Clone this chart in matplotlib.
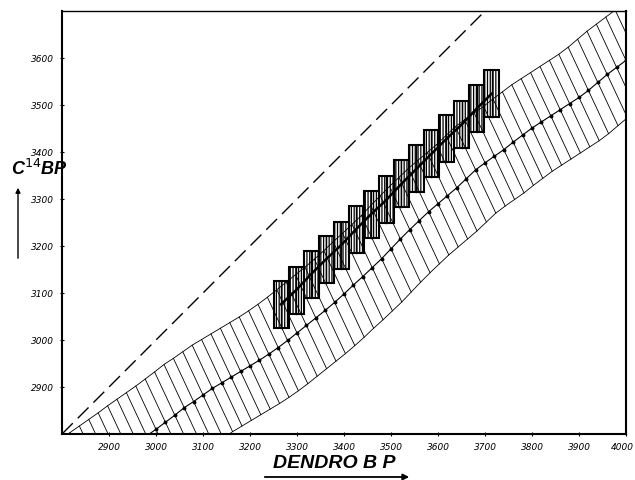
import matplotlib
matplotlib.use("Agg")
import matplotlib.pyplot as plt
from matplotlib.patches import Rectangle, FancyArrowPatch
from matplotlib.transforms import ScaledTranslation
import numpy as np

# calibration curve (dendro years BP vs C14 years BP), one point per 20 years
dendro = list(range(2840, 4041, 20))
c14 = [2697, 2711, 2725, 2739, 2753, 2768, 2782, 2796, 2810, 2825,
       2840, 2856, 2869, 2883, 2897, 2909, 2921, 2933, 2945, 2957,
       2970, 2984, 2999, 3015, 3031, 3047, 3063, 3080, 3098, 3117,
       3135, 3154, 3173, 3194, 3215, 3235, 3254, 3273, 3290, 3307,
       3324, 3343, 3362, 3377, 3391, 3405, 3421, 3436, 3451, 3464,
       3477, 3490, 3503, 3516, 3531, 3548, 3565, 3580, 3595, 3610, 3625]

# error band drawn as slanted strokes: half extent along dendro / c14
band_dx = 43
band_dy = 92

# measured samples (box = dendro interval x c14 +- sigma)
sample_dendro = [3266, 3298, 3330, 3362, 3394, 3426, 3458, 3490,
                 3522, 3554, 3586, 3618, 3650, 3682, 3714]
sample_c14 = [3076, 3106, 3140, 3172, 3202, 3236, 3268, 3298,
              3332, 3364, 3396, 3428, 3458, 3492, 3524]
sample_width = 32
sample_sigma = 50

xticks = [2900, 3000, 3100, 3200, 3300, 3400, 3500, 3600, 3700, 3800, 3900, 4000]
yticks = [2900, 3000, 3100, 3200, 3300, 3400, 3500, 3600]

plt.rcParams['hatch.linewidth'] = 0.9

fig = plt.figure(figsize=(6.35, 4.81), dpi=100)
ax = fig.add_axes([62/635, 46/481, 564/635, 423/481])

# 1:1 line
ax.plot([2800, 3700], [2800, 3700], color='black', lw=1.0, dashes=(11, 5))

# calibration band
x = np.array(dendro)
y = np.array(c14)
top_x, top_y = x - band_dx, y + band_dy
bot_x, bot_y = x + band_dx, y - band_dy
for i in range(len(x)):
    ax.plot([top_x[i], bot_x[i]], [top_y[i], bot_y[i]], color='black', lw=0.6)
ax.plot(top_x, top_y, color='black', lw=0.6)
ax.plot(bot_x, bot_y, color='black', lw=0.6)
ax.plot(x, y, color='black', lw=0.8, marker='o', ms=1.8)

# sample boxes
for d, c in zip(sample_dendro, sample_c14):
    ax.add_patch(Rectangle((d - sample_width/2, c - sample_sigma), sample_width, 2*sample_sigma,
                           fill=False, edgecolor='black', lw=1.5, hatch='||||||'))
    ax.plot([d, d], [c - sample_sigma, c + sample_sigma], color='black', lw=1.0)
ax.plot(sample_dendro, sample_c14, color='black', lw=1.8)

ax.set_xlim(2800, 4000)
ax.set_ylim(2800, 3700)
ax.set_xticks(xticks)
ax.set_yticks(yticks)
ax.set_xticklabels([str(t) for t in xticks], fontsize=6.5, style='italic')
ax.set_yticklabels([str(t) for t in yticks], fontsize=6.5, style='italic')
ax.tick_params(direction='inout', length=3, width=0.8, pad=4)
last = ax.get_xticklabels()[-1]
last.set_transform(last.get_transform() + ScaledTranslation(-0.04, 0, fig.dpi_scale_trans))
for side in ['left', 'bottom', 'right']:
    ax.spines[side].set_linewidth(1.5)
ax.spines['top'].set_linewidth(1.0)

# axis titles
fig.text(11/635, 1 - 169/481, r'C$^{14}$BP', fontsize=13, fontweight='bold', style='italic',
         family='Liberation Sans', va='center', ha='left')
fig.text(334/635, 1 - 464/481, 'DENDRO B P', fontsize=14, fontweight='bold', style='italic',
         family='Liberation Sans', va='center', ha='center')
fig.add_artist(FancyArrowPatch((262/635, 1 - 478/481), (412/635, 1 - 478/481),
               transform=fig.transFigure, arrowstyle='-|>', mutation_scale=9, lw=1.3, color='black'))
fig.add_artist(FancyArrowPatch((18/635, 1 - 262/481), (18/635, 1 - 186/481),
               transform=fig.transFigure, arrowstyle='-|>', mutation_scale=7, lw=1.0, color='black'))

fig.savefig('out.png', dpi=100)
